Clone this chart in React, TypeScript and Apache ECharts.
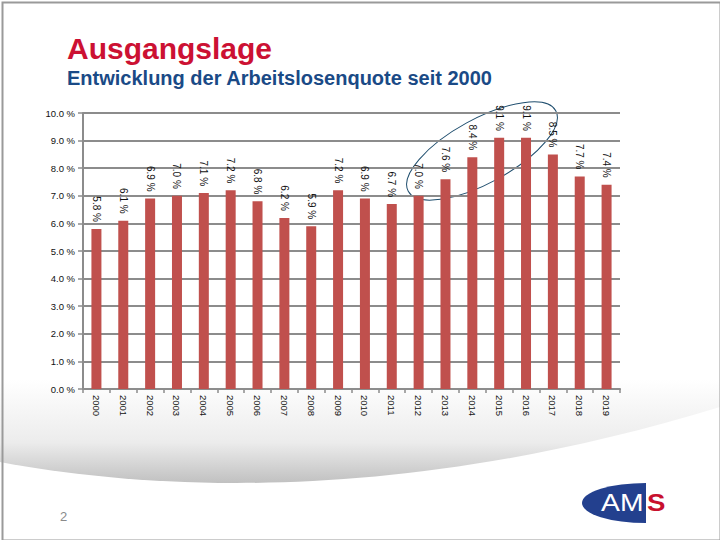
import React, { useEffect, useRef } from "react";
import * as echarts from "echarts";

const years = ["2000","2001","2002","2003","2004","2005","2006","2007","2008","2009","2010","2011","2012","2013","2014","2015","2016","2017","2018","2019"];
const rates = [5.8, 6.1, 6.9, 7.0, 7.1, 7.2, 6.8, 6.2, 5.9, 7.2, 6.9, 6.7, 7.0, 7.6, 8.4, 9.1, 9.1, 8.5, 7.7, 7.4];
const yMin = 0;
const yMax = 10;
const yStep = 1;

echarts.graphic.registerShape(
  "amsHalf",
  echarts.graphic.extendPath("M 64 0 A 64 20 0 0 0 64 40 Z", {})
);
echarts.graphic.registerShape(
  "slideSwoosh",
  echarts.graphic.extendPath("M 0 300 L 720 300 L 720 407 C 400 505 150 490 0 462 Z", {})
);

export default function App() {
  const ref = useRef<HTMLDivElement>(null);
  useEffect(() => {
    if (!ref.current) return;
    const chart = echarts.init(ref.current, null, { renderer: "svg" });
    const font = "Arial, 'Liberation Sans', sans-serif";
    chart.setOption({
      animation: false,
      backgroundColor: "#ffffff",
      grid: { left: 83, right: 100, top: 113, bottom: 151, containLabel: false },
      xAxis: {
        type: "category",
        data: years,
        axisLine: { lineStyle: { color: "#8c8c8c", width: 2 } },
        axisTick: { show: true, length: 4, lineStyle: { color: "#8c8c8c", width: 1.5 } },
        axisLabel: {
          rotate: -90,
          color: "#111",
          fontSize: 9.5,
          fontFamily: font,
          margin: 6,
        },
      },
      yAxis: {
        type: "value",
        min: yMin,
        max: yMax,
        interval: yStep,
        axisLine: { show: true, lineStyle: { color: "#8c8c8c", width: 2 } },
        axisTick: { show: true, length: 5, lineStyle: { color: "#8c8c8c", width: 1.5 } },
        splitLine: { lineStyle: { color: "#8c8c8c", width: 2 } },
        axisLabel: {
          formatter: (v: number) => v.toFixed(1) + " %",
          color: "#111",
          fontSize: 9.5,
          fontFamily: font,
          margin: 8,
        },
      },
      series: [
        {
          type: "bar",
          data: rates,
          barWidth: 10,
          itemStyle: { color: "#c0504d" },
          label: {
            show: true,
            position: "top",
            rotate: -90,
            align: "right",
            verticalAlign: "middle",
            distance: 7,
            formatter: (p: any) => p.value.toFixed(1) + " %",
            color: "#111",
            fontSize: 10,
            fontFamily: font,
          },
        },
      ],
      graphic: [
        {
          type: "slideSwoosh",
          x: 0,
          y: 0,
          z: -10,
          silent: true,
          style: {
            fill: new echarts.graphic.LinearGradient(0, 380, 0, 505, [
              { offset: 0, color: "#ffffff" },
              { offset: 0.5, color: "#ececec" },
              { offset: 1, color: "#a9a9a9" },
            ], true),
          },
        },
        {
          type: "rect",
          left: 0,
          top: 0,
          z: -5,
          silent: true,
          shape: { x: 1, y: 1, width: 718, height: 538 },
          style: { fill: "none", stroke: "#9a9a9a", lineWidth: 2 },
        },
        {
          type: "text",
          x: 67,
          y: 33,
          style: {
            text: "Ausgangslage",
            fill: "#cc1133",
            font: "bold 30px Arial, 'Liberation Sans', sans-serif",
          },
        },
        {
          type: "text",
          x: 67,
          y: 68,
          style: {
            text: "Entwicklung der Arbeitslosenquote seit 2000",
            fill: "#1a4a86",
            font: "bold 20px Arial, 'Liberation Sans', sans-serif",
          },
        },
        {
          type: "ellipse",
          x: 482,
          y: 151,
          rotation: 0.5,
          shape: { cx: 0, cy: 0, rx: 84, ry: 32 },
          style: { fill: "none", stroke: "#1f4e6e", lineWidth: 1 },
        },
        {
          type: "text",
          x: 60,
          y: 510,
          style: {
            text: "2",
            fill: "#8a8a8a",
            font: "13px Arial, 'Liberation Sans', sans-serif",
          },
        },
        {
          type: "amsHalf",
          x: 582,
          y: 483,
          style: { fill: "#23408e" },
        },
        {
          type: "text",
          x: 601,
          y: 491,
          scaleX: 1.18,
          style: {
            text: "AM",
            fill: "#ffffff",
            font: "24px Arial, 'Liberation Sans', sans-serif",
          },
        },
        {
          type: "text",
          x: 647,
          y: 491,
          scaleX: 1.15,
          style: {
            text: "S",
            fill: "#c8102e",
            font: "bold 24px Arial, 'Liberation Sans', sans-serif",
          },
        },
      ],
    });
    return () => chart.dispose();
  }, []);
  return (
    <div
      ref={ref}
      style={{ position: "fixed", left: 0, top: 0, width: 720, height: 540 }}
    />
  );
}
